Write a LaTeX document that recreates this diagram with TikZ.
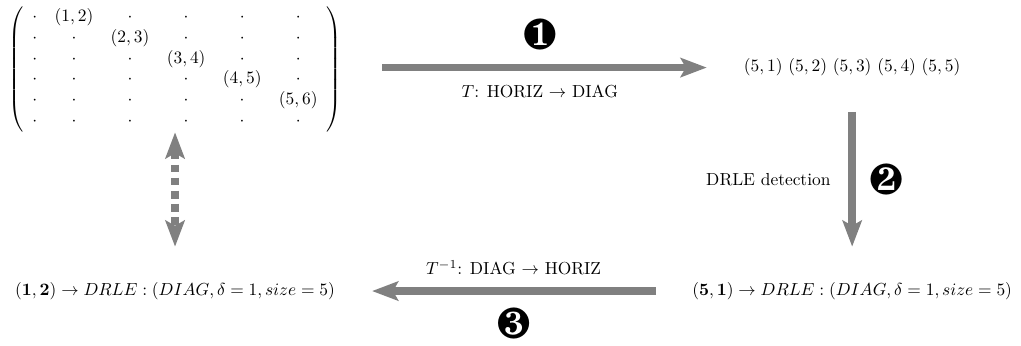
\documentclass[tikz,border=0pt]{standalone}
\usepackage{amsmath,amssymb}
\usepackage{pifont}
\usetikzlibrary{arrows.meta}
\tikzset{
  bigarrow/.style={draw=gray,line width=4.5pt,
    -{Stealth[length=15pt,width=11pt,inset=3pt]}},
  linkarrow/.style={bigarrow,dash pattern=on 4.5pt off 3pt,
    {Stealth[length=15pt,width=11pt,inset=3pt]}-{Stealth[length=15pt,width=11pt,inset=3pt]}},
  stepnum/.style={font=\Huge}
}

\begin{document}
\begin{tikzpicture}
  \useasboundingbox (0,0) rectangle (20.62,-6.97);
  % the four states
  \node[inner sep=0pt] (mat) at (3.535,-1.40) {$\left(\begin{array}{cccccc}
    \cdot & (1,2) & \cdot & \cdot & \cdot & \cdot\\
    \cdot & \cdot & (2,3) & \cdot & \cdot & \cdot\\
    \cdot & \cdot & \cdot & (3,4) & \cdot & \cdot\\
    \cdot & \cdot & \cdot & \cdot & (4,5) & \cdot\\
    \cdot & \cdot & \cdot & \cdot & \cdot & (5,6)\\
    \cdot & \cdot & \cdot & \cdot & \cdot & \cdot
  \end{array}\right)$};
  \node (diag) at (17.21,-1.365) {$(5,1)$ $(5,2)$ $(5,3)$ $(5,4)$ $(5,5)$};
  \node (rle) at (17.21,-5.878) {$(\mathbf{5},\mathbf{1})\rightarrow DRLE:(DIAG,\delta=1,size=5)$};
  \node (orig) at (3.535,-5.878) {$(\mathbf{1},\mathbf{2})\rightarrow DRLE:(DIAG,\delta=1,size=5)$};
  % steps
  \draw[bigarrow,shorten <=0.81cm,shorten >=0.626cm] (mat.east |- diag) -- (diag)
    node[midway,yshift=0.667cm,stepnum] (one) {\ding{182}}
    node[midway,yshift=-0.485cm] (fwd) {$T$: HORIZ $\rightarrow$ DIAG};
  \draw[bigarrow,shorten <=0.596cm,shorten >=0.596cm] (diag) -- (rle)
    node[midway,anchor=east,xshift=-0.242cm] (det) {DRLE detection}
    node[midway,xshift=0.687cm,stepnum] (two) {\ding{183}};
  \draw[bigarrow,shorten <=0.606cm,shorten >=0.626cm] (rle) -- (orig)
    node[midway,yshift=0.465cm] (bwd) {$T^{-1}$: DIAG $\rightarrow$ HORIZ}
    node[midway,yshift=-0.646cm,stepnum] (three) {\ding{184}};
  \draw[linkarrow,shorten >=0.596cm] (mat) -- (orig);
\end{tikzpicture}
\end{document}
